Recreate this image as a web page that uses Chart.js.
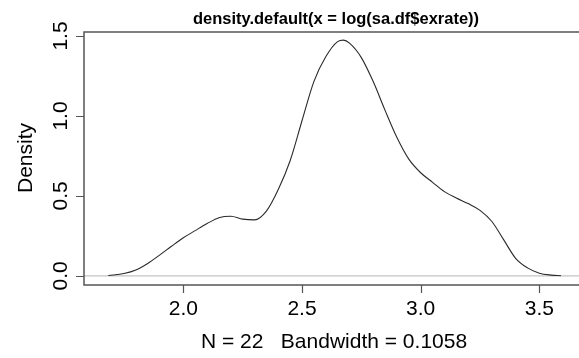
<!DOCTYPE html>
<html>
<head>
<meta charset="utf-8">
<script src="https://cdn.jsdelivr.net/npm/chart.js@4/dist/chart.umd.min.js"></script>
<style>
html,body{margin:0;padding:0;background:#fff;overflow:hidden;}
canvas{display:block;}
</style>
</head>
<body>
<canvas id="c" width="579" height="358"></canvas>
<script>
// ---- data ----
const xs = [1.684,1.75,1.80,1.85,1.90,1.95,2.00,2.05,2.10,2.15,2.20,2.25,2.30,2.35,2.40,2.45,2.50,2.55,2.60,2.65,2.675,2.70,2.75,2.80,2.85,2.90,2.95,3.00,3.05,3.10,3.15,3.20,3.25,3.30,3.35,3.40,3.45,3.50,3.55,3.591];
const ys = [0.002,0.015,0.037,0.078,0.130,0.185,0.238,0.283,0.327,0.364,0.373,0.355,0.350,0.405,0.54,0.72,0.97,1.215,1.37,1.465,1.474,1.455,1.365,1.215,1.035,0.865,0.73,0.645,0.585,0.527,0.487,0.452,0.41,0.34,0.225,0.11,0.05,0.017,0.005,0.001];
const xTicks = [2.0, 2.5, 3.0, 3.5];
const xTickLabels = ["2.0", "2.5", "3.0", "3.5"];
const yTicks = [0.0, 0.5, 1.0, 1.5];
const yTickLabels = ["0.0", "0.5", "1.0", "1.5"];
const titleText = "density.default(x = log(sa.df$exrate))";
const xLabel = "N = 22   Bandwidth = 0.1058";
const yLabel = "Density";

const points = xs.map((x, i) => ({x: x, y: ys[i]}));

const FONT = '"Liberation Sans", Arial, sans-serif';

const rAxes = {
  id: 'rAxes',
  beforeDatasetsDraw(chart) {
    const ctx = chart.ctx, a = chart.chartArea;
    const ys0 = chart.scales.y.getPixelForValue(0);
    ctx.save();
    ctx.strokeStyle = '#c4c4c4';
    ctx.lineWidth = 1.2;
    ctx.beginPath();
    ctx.moveTo(a.left, ys0);
    ctx.lineTo(a.right, ys0);
    ctx.stroke();
    ctx.restore();
  },
  afterDraw(chart) {
    const ctx = chart.ctx, a = chart.chartArea;
    const sx = chart.scales.x, sy = chart.scales.y;
    ctx.save();
    ctx.strokeStyle = '#555';
    ctx.lineWidth = 1.5;
    ctx.beginPath();
    ctx.moveTo(a.right + 5, a.top);
    ctx.lineTo(a.left, a.top);
    ctx.lineTo(a.left, a.bottom);
    ctx.lineTo(a.right + 5, a.bottom);
    ctx.stroke();
    // ticks
    ctx.lineWidth = 1.2;
    ctx.beginPath();
    xTicks.forEach(v => {
      const px = Math.round(sx.getPixelForValue(v)) + 0.5;
      ctx.moveTo(px, a.bottom);
      ctx.lineTo(px, a.bottom + 8);
    });
    yTicks.forEach(v => {
      const py = Math.round(sy.getPixelForValue(v)) + 0.5;
      ctx.moveTo(a.left, py);
      ctx.lineTo(a.left - 8, py);
    });
    ctx.stroke();
    // labels
    ctx.fillStyle = '#000';
    ctx.font = '21px ' + FONT;
    ctx.textAlign = 'center';
    ctx.textBaseline = 'alphabetic';
    xTicks.forEach((v, i) => {
      ctx.fillText(xTickLabels[i], sx.getPixelForValue(v), 315);
    });
    yTicks.forEach((v, i) => {
      ctx.save();
      ctx.translate(66.5, sy.getPixelForValue(v));
      ctx.rotate(-Math.PI / 2);
      ctx.fillText(yTickLabels[i], 0, 0);
      ctx.restore();
    });
    ctx.fillText(xLabel, 334, 348);
    ctx.save();
    ctx.translate(32, 158);
    ctx.rotate(-Math.PI / 2);
    ctx.fillText(yLabel, 0, 0);
    ctx.restore();
    ctx.font = 'bold 16.5px ' + FONT;
    ctx.textBaseline = 'middle';
    ctx.fillText(titleText, 336, 19);
    ctx.restore();
  }
};

new Chart(document.getElementById('c'), {
  type: 'line',
  data: {
    datasets: [{
      data: points,
      borderColor: '#2a2a2a',
      borderWidth: 1.1,
      pointRadius: 0,
      fill: false,
      tension: 0.4,
      cubicInterpolationMode: 'monotone'
    }]
  },
  options: {
    responsive: false,
    animation: false,
    events: [],
    layout: { padding: { left: 84, top: 32, right: 0, bottom: 73 } },
    plugins: { legend: { display: false }, tooltip: { enabled: false }, title: { display: false } },
    scales: {
      x: { type: 'linear', display: false, min: 1.5816, max: 3.667 },
      y: { type: 'linear', display: false, min: -0.057, max: 1.525 }
    }
  },
  plugins: [rAxes]
});
</script>
</body>
</html>
